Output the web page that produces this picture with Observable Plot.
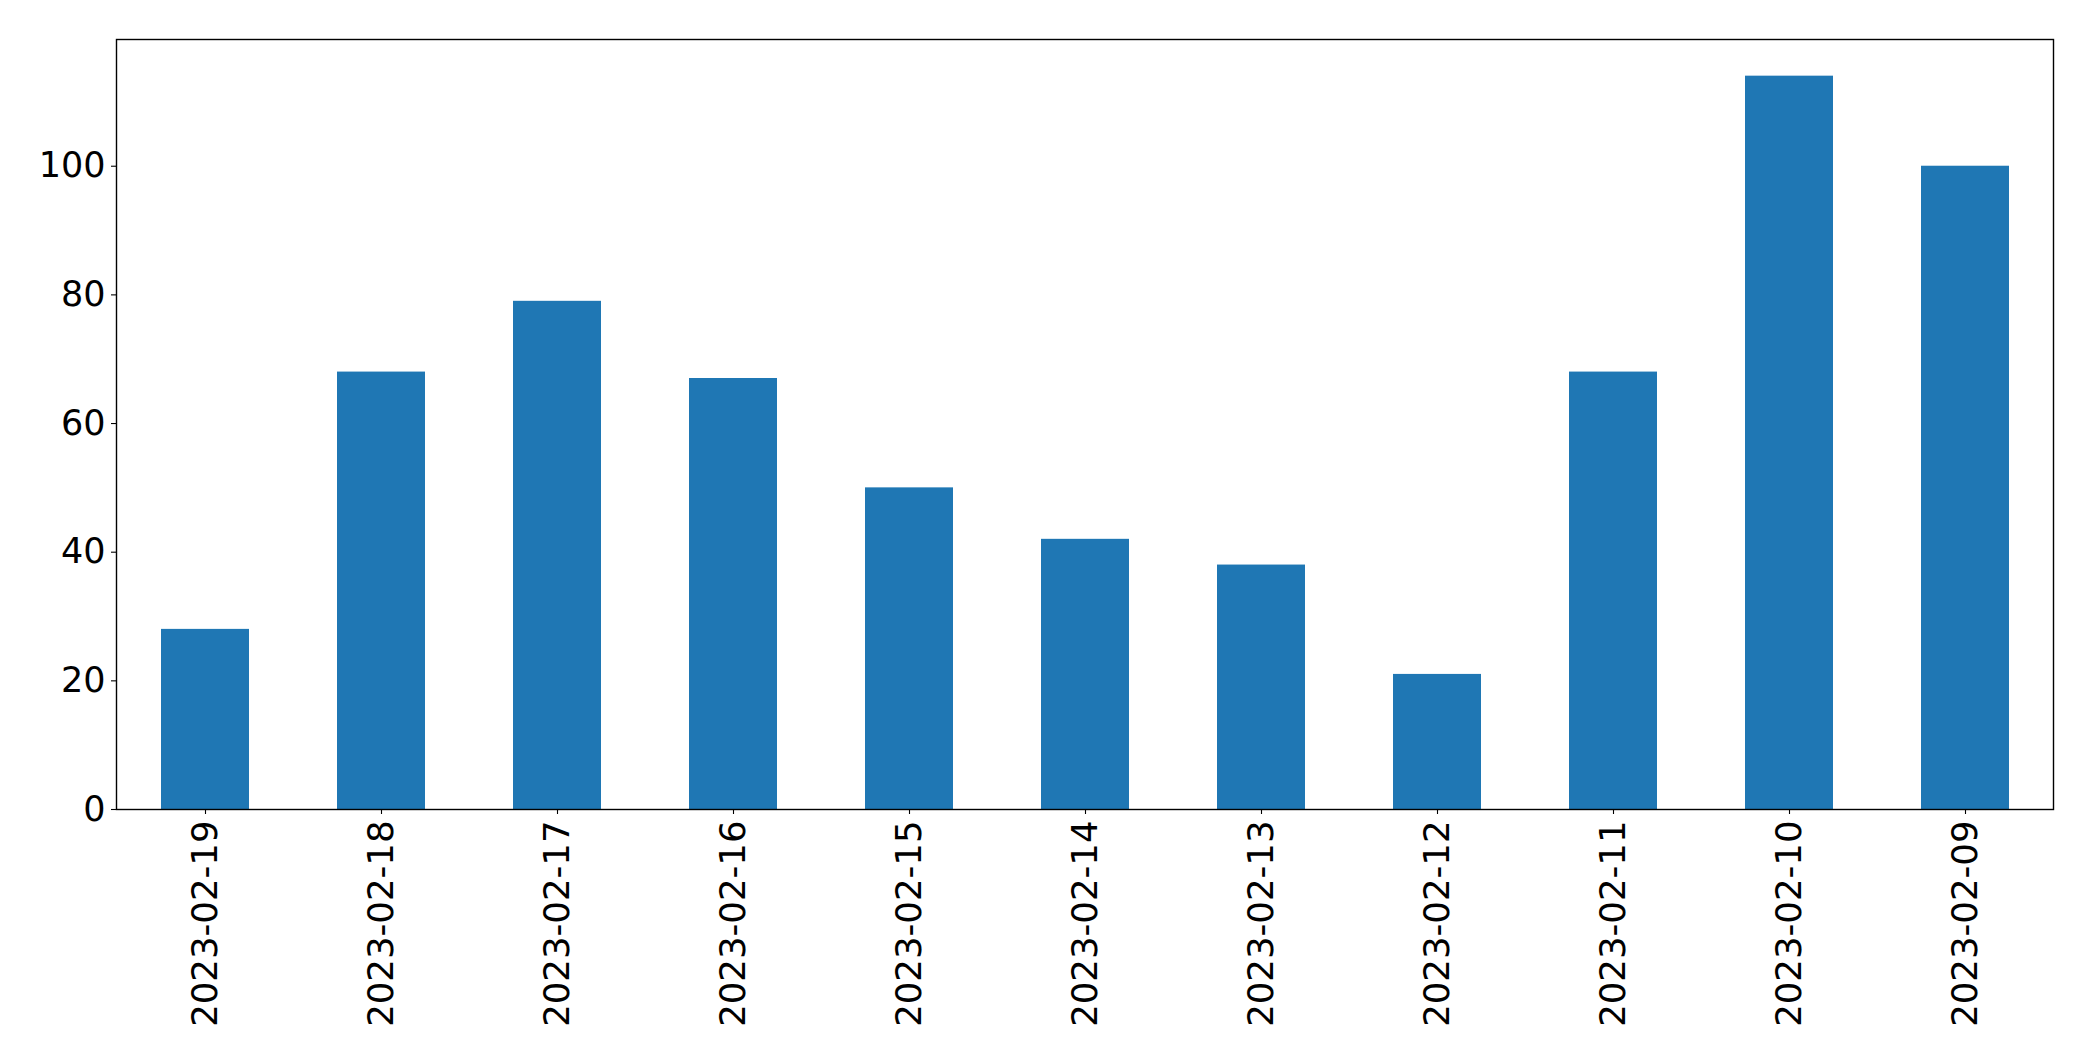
<!DOCTYPE html>
<html>
<head>
<meta charset="utf-8">
<script src="https://cdn.jsdelivr.net/npm/d3@7"></script>
<script src="https://cdn.jsdelivr.net/npm/@observablehq/plot@0.6"></script>
<style>
  html, body { margin: 0; padding: 0; background: #fff; }
  svg { display: block; }
</style>
</head>
<body>
<div id="chart"></div>
<script>
const dates = ["2023-02-19","2023-02-18","2023-02-17","2023-02-16","2023-02-15","2023-02-14","2023-02-13","2023-02-12","2023-02-11","2023-02-10","2023-02-09"];
const counts = [28, 68, 79, 67, 50, 42, 38, 21, 68, 114, 100];
const yTicks = [0, 20, 40, 60, 80, 100];

const data = dates.map((d, i) => ({date: d, count: counts[i]}));

const chart = Plot.plot({
  width: 2093,
  height: 1061,
  marginLeft: 116,
  marginRight: 40,
  marginTop: 39,
  marginBottom: 252,
  style: {fontFamily: "DejaVu Sans", fontSize: "35px", color: "#000", background: "#fff"},
  x: {domain: dates, paddingInner: 0.5, paddingOuter: 0.25, label: null},
  y: {domain: [0, 114 * 1.05], label: null},
  marks: [
    Plot.barY(data, {x: "date", y: "count", fill: "#1f77b4"}),
    Plot.axisX({tickRotate: -90, tickSize: 5, tickPadding: 6, fontSize: 35.5, label: null, stroke: "#000", strokeWidth: 1.1}),
    Plot.axisY({ticks: yTicks, tickSize: 5, tickPadding: 6, fontSize: 35, label: null, stroke: "#000", strokeWidth: 1.1}),
    Plot.frame({stroke: "#000", strokeWidth: 1.4})
  ]
});
document.getElementById("chart").appendChild(chart);
</script>
</body>
</html>
